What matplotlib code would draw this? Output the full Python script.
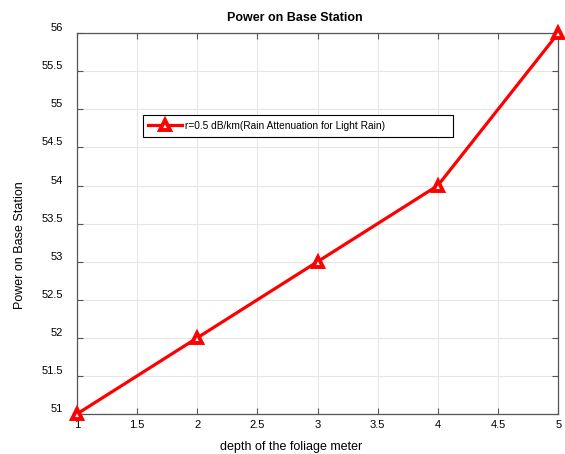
import matplotlib
matplotlib.use('Agg')
import matplotlib.pyplot as plt
import matplotlib.transforms as mtransforms
from matplotlib.patches import Rectangle

plt.rcParams['font.family'] = ['Liberation Sans', 'DejaVu Sans']

depth = [1, 2, 3, 4, 5]
power = [51, 52, 53, 54, 56]
xticks = [1, 1.5, 2, 2.5, 3, 3.5, 4, 4.5, 5]
yticks = [51, 51.5, 52, 52.5, 53, 53.5, 54, 54.5, 55, 55.5, 56]
series_label = 'r=0.5 dB/km(Rain Attenuation for Light Rain)'

fig = plt.figure(figsize=(5.65, 4.54), dpi=100)
ax = fig.add_axes([0.136, 0.088, 0.852, 0.839])

ax.plot(depth, power, color='red', lw=2.3, marker='^', ms=7.5,
        mfc='white', mec='red', mew=2.8, label=series_label, clip_on=False, zorder=5)

ax.set_xlim(1, 5)
ax.set_ylim(51, 56)
ax.set_xticks(xticks)
ax.set_yticks(yticks)
ax.set_xticklabels([f'{v:g}' for v in xticks])
ax.set_yticklabels([f'{v:g}' for v in yticks])
ax.grid(True, color='#e6e6e6', lw=0.8)
ax.set_axisbelow(True)
ax.tick_params(direction='in', length=4, width=0.8, color='#555555',
               labelsize=8, top=True, right=True)
ax.tick_params(axis='x', pad=4)
ax.tick_params(axis='y', pad=10)
for s in ax.spines.values():
    s.set_color('#555555')
    s.set_linewidth(0.9)

# y labels sit a little above their ticks
off = mtransforms.ScaledTranslation(0, 6 / 100, fig.dpi_scale_trans)
for lab in ax.get_yticklabels():
    lab.set_transform(lab.get_transform() + off)

ax.set_title('Power on Base Station', fontsize=9, fontweight='bold', x=0.453, pad=9)
ax.set_xlabel('depth of the foliage meter', fontsize=9)
ax.set_ylabel('Power on Base Station', fontsize=9)
ax.xaxis.set_label_coords(0.445, -0.07)
ax.yaxis.set_label_coords(-0.105, 0.444)

# legend entry without its own frame, boxed by a wider rectangle
leg = ax.legend(loc='center left', bbox_to_anchor=(0.1476, 0.757), fontsize=7.25,
                frameon=False, borderpad=0, handlelength=3.4,
                handletextpad=0.25, borderaxespad=0)
ax.add_patch(Rectangle((0.137, 0.727), 0.645, 0.058, transform=ax.transAxes,
                       fill=True, facecolor='white', edgecolor='black', lw=0.8,
                       zorder=6))
leg.set_zorder(7)

fig.savefig('out.png', dpi=100)
